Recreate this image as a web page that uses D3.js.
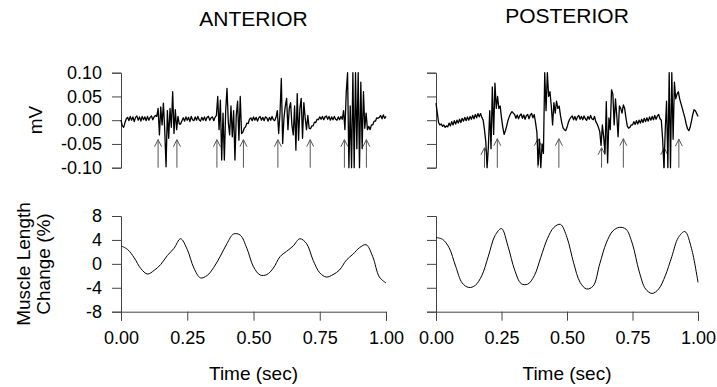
<!DOCTYPE html>
<html>
<head>
<meta charset="utf-8">
<script src="https://cdn.jsdelivr.net/npm/d3@7/dist/d3.min.js"></script>
<style>
    body { margin: 0; background: #fff; }
    svg text { font-family: "Liberation Sans", Arial, Helvetica, sans-serif; fill: #000; }
    .axis path, .axis line { stroke: #444; stroke-width: 1; }
    .emg { fill: none; stroke: #000; stroke-width: 1.3; stroke-linejoin: round; }
    .len { fill: none; stroke: #000; stroke-width: 1; }
    .arrow { fill: none; stroke: #555; stroke-width: 1; }
</style>
</head>
<body>
<svg width="717" height="387"></svg>
<script>
// EMG traces, sampled every 0.005 s from 0 to 1 s, in microvolts (1000 uV = 1 mV)
let anteriorEmg = [
    0, -12, -15, -5, 3,
    6, -1, 8, 0, 7, -3, 6, 9, 0, 7, -2, 8, 1, 7, -1, 8, 0, 6, 9, 1, 7, 10,
    8, 25, -31, 28, -10, 36, -20, -98, 20, -38, 25, -15, 60, -28, 22, -20, 8, -8,
    -8, -1, 5, -2, 7, 0, 6, -3, 8, 1, -1, 7, 0, 8, 1, -2, 6, 0, 7, -1, 6, 8, 0, 5, 7, -1, 6,
    10, 50, -20, 42, -84, 15, -84, 20, 67, -5, -31, 30, -35, 20, -84, 10, 40, -42, 50, -28, -25, -17,
    -14, -6, -7, 2, 5, -1, 7, 0, 6, -2, 5, 8, 0, 6, -1, 7, 5, -2, 6, 0, 8, 1, -1, 6,
    20, -28, 15, 88, -49, 5, 30, 46, -20, 25, 37, -10, -31, 30, -63, 56, -42, 25, 46, -38, 37, 5, -20, 10, -17,
    -18, -12, -12, -4, -5, 2, 1, 7, 2, 8, 1, 7, 9, 2, 8, 0, 7, 1, 8, 2, 0, 7, 1, 8, 2,
    20, -20, 60, 100, -100, 30, -100, 100, -100, 100, -60, 100, -100, 80, -60, 60, -17, 15,
    -20, -13, -20, -10, -10, -2, -2, 5, 4, 6, 10, 3, 11, 4, 8
];
let posteriorEmg = [
    36, 15, -5, -10, -8, -13, -10, -15, -12,
    -14, -6, -12, -3, -10, -1, -8, 0, -6, 2, -5, 4, -2, 6, -1, 7, 0, 8, 2, 10, 3, 12, 5, 14, 7, 14, 6,
    0, -20, -45, -100, -55, 20, -60, 70, -30, 78, 25,
    50, 25, 30, 5, -15, -30, -22, -12, 0, 8, 14, 18, 15,
    12, 4, 11, 3, 10, 13, 4, 11, 2, 10, 12, 3, 11, 14, 5, 12,
    -5, -25, -94, -40, -100, -50, -70, 100, 20, 100, 50, 60, 30, -10, 37, 15, 40, 25, 30, 10, -5, -16, -20, -22, -15, -5, 2,
    6, 9, 1, 8, 0, 7, 10, 2, 8, 1, 9, 3, 0, 8, 2, 10, 3, 1, 8,
    -3, -8, -15, -24, -53, -10, -35, -70, 39, -90, 5, -20, 64, 55, -10, 45, 10, -35, 30, 25, 15, 32, 25, 5, -12, -17, -15, -10,
    -10, -3, -9, -1, -8, 0, -6, 2, -5, 4, -3, 5, -2, 7, 0, 8, 1, 10, 2, 9, 12, 3, 0,
    -40, -100, -20, 40, -100, 100, -100, 100, -40, 80, 45, 55, 60, 45, 35, 25, 15, 5, -8, -18, -22, -15, -2, 12, 22, 20, 14, 8
];

// burst onset / offset arrows: time (s) and tip level (mV)
let anteriorArrows = [0.140, 0.211, 0.362, 0.462, 0.592, 0.714, 0.843, 0.926];
let anteriorArrowTips = [-0.041, -0.041, -0.041, -0.041, -0.041, -0.041, -0.041, -0.041];
let posteriorArrows = [0.185, 0.234, 0.389, 0.469, 0.632, 0.715, 0.871, 0.927];
let posteriorArrowTips = [-0.058, -0.039, -0.039, -0.039, -0.058, -0.039, -0.058, -0.040];

// muscle length change (%), every 0.025 s
let lengthTime = [0, 0.025, 0.05, 0.075, 0.1, 0.125, 0.15, 0.175, 0.2, 0.225,
    0.25, 0.275, 0.3, 0.325, 0.35, 0.375, 0.4, 0.425, 0.45, 0.475,
    0.5, 0.525, 0.55, 0.575, 0.6, 0.625, 0.65, 0.675, 0.7, 0.725,
    0.75, 0.775, 0.8, 0.825, 0.85, 0.875, 0.9, 0.925, 0.95, 0.975, 1.0];
let anteriorLength = [3.0, 2.4, 1.0, -0.8, -1.7, -1.1, -0.1, 1.4, 2.6, 4.2,
    2.4, -0.7, -2.35, -1.95, -0.6, 1.3, 3.4, 5.0, 4.8, 2.6,
    -0.5, -1.86, -1.8, -0.7, 1.2, 2.1, 3.0, 4.2, 3.4, 0.6,
    -1.5, -2.2, -1.8, -1.0, 0.6, 1.6, 2.7, 3.2, 1.2, -2.2, -3.2];
let posteriorLength = [4.4, 4.1, 2.7, -0.4, -3.2, -3.95, -3.6, -1.95, 1.3, 4.7,
    5.9, 2.9, -1.0, -3.3, -3.4, -2.0, 1.1, 4.2, 6.1, 6.6,
    4.4, 0.2, -3.1, -4.2, -3.7, 0.0, 3.5, 5.5, 6.1, 5.8,
    3.3, -1.2, -4.2, -4.95, -4.2, -2.0, 1.2, 4.4, 5.4, 2.6, -3.1];

let emgTicks = [-0.10, -0.05, 0, 0.05, 0.10];
let emgTickLabels = ["-0.10", "-0.05", "0.00", "0.05", "0.10"];
let lengthTicks = [-8, -4, 0, 4, 8];
let lengthTickLabels = ["-8", "-4", "0", "4", "8"];
let timeTicks = [0, 0.25, 0.5, 0.75, 1.0];
let timeTickLabels = ["0.00", "0.25", "0.50", "0.75", "1.00"];

let svg = d3.select("svg");

let panels = [
    {title: "ANTERIOR", left: 121, right: 386, titleY: 26, emg: anteriorEmg, arrows: anteriorArrows,
        tips: anteriorArrowTips, len: anteriorLength, labels: true},
    {title: "POSTERIOR", left: 436, right: 698, titleY: 23, emg: posteriorEmg, arrows: posteriorArrows,
        tips: posteriorArrowTips, len: posteriorLength, labels: false}
];

let yEmg = d3.scaleLinear().domain([-0.1, 0.1]).range([167.7, 72.7]);
let yLen = d3.scaleLinear().domain([-8, 8]).range([311.7, 216]);

panels.forEach(function (p) {
    let x = d3.scaleLinear().domain([0, 1]).range([p.left, p.right]);

    svg.append("text")
        .attr("x", (p.left + p.right) / 2)
        .attr("y", p.titleY)
        .attr("text-anchor", "middle")
        .style("font-size", "21px")
        .text(p.title);

    // EMG panel
    svg.append("g")
        .attr("class", "axis")
        .attr("transform", "translate(" + p.left + ",0)")
        .call(d3.axisLeft(yEmg).tickValues(emgTicks).tickSize(9).tickPadding(10)
            .tickFormat(function (d, i) { return p.labels ? emgTickLabels[i] : ""; }))
        .selectAll("text").style("font-size", "18px");

    svg.append("g").selectAll(".arrow")
        .data(p.arrows)
        .enter().append("path")
        .attr("class", "arrow")
        .attr("d", function (t, i) {
            let ax = x(t), yb = yEmg(-0.1), yt = yEmg(p.tips[i]);
            return "M" + ax + "," + yb + "V" + yt +
                "M" + (ax - 3.5) + "," + (yt + 7) + "L" + ax + "," + yt + "L" + (ax + 3.5) + "," + (yt + 7);
        });

    let n = p.emg.length;
    let emgLine = d3.line()
        .x(function (d, i) { return x(i / (n - 1)); })
        .y(function (d) { return yEmg(d / 1000); });
    svg.append("path")
        .datum(p.emg)
        .attr("class", "emg")
        .attr("d", emgLine);

    // muscle length panel
    svg.append("g")
        .attr("class", "axis")
        .attr("transform", "translate(" + p.left + ",0)")
        .call(d3.axisLeft(yLen).tickValues(lengthTicks).tickSize(9).tickPadding(10)
            .tickFormat(function (d, i) { return p.labels ? lengthTickLabels[i] : ""; }))
        .selectAll("text").style("font-size", "18px");

    svg.append("g")
        .attr("class", "axis")
        .attr("transform", "translate(0," + yLen(-8) + ")")
        .call(d3.axisBottom(x).tickValues(timeTicks).tickSize(9).tickPadding(11)
            .tickFormat(function (d, i) { return timeTickLabels[i]; }))
        .selectAll("text").style("font-size", "18px");

    let lenLine = d3.line()
        .curve(d3.curveCatmullRom)
        .x(function (d, i) { return x(lengthTime[i]); })
        .y(function (d) { return yLen(d); });
    svg.append("path")
        .datum(p.len)
        .attr("class", "len")
        .attr("d", lenLine);

    svg.append("text")
        .attr("x", (p.left + p.right) / 2)
        .attr("y", 380)
        .attr("text-anchor", "middle")
        .style("font-size", "19px")
        .text("Time (sec)");
});

svg.append("text")
    .attr("transform", "translate(42,120) rotate(-90)")
    .attr("text-anchor", "middle")
    .style("font-size", "19px")
    .text("mV");

svg.append("text")
    .attr("transform", "translate(30,264) rotate(-90)")
    .attr("text-anchor", "middle")
    .style("font-size", "19px")
    .text("Muscle Length");

svg.append("text")
    .attr("transform", "translate(50,264) rotate(-90)")
    .attr("text-anchor", "middle")
    .style("font-size", "19px")
    .text("Change (%)");
</script>
</body>
</html>
